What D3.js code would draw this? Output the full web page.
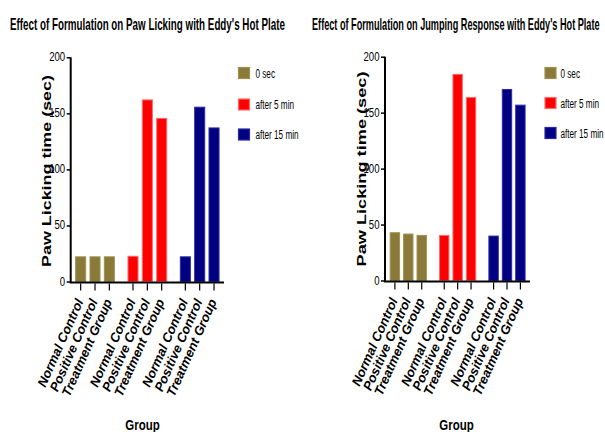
<!DOCTYPE html>
<html><head><meta charset="utf-8">
<script src="https://cdn.jsdelivr.net/npm/d3@7"></script>
<style>
body{margin:0;background:#fff;}
svg{display:block;}
text{font-family:"Liberation Sans Narrow","Arial Narrow","Liberation Sans",Arial,sans-serif;fill:#000;}
</style></head><body>
<svg id="c" width="605" height="432"></svg>
<script>
const series = ["0 sec", "after 5 min", "after 15 min"];
const categories = ["Normal Control", "Positive Control", "Treatment Group"];
const colors = ["#8a7a3a", "#ff0000", "#000080"];
const strokes = ["#a09050", "#ff6a6a", "#2a2aa8"];
const yTicks = [0, 50, 100, 150, 200];
// values per series (rows) x categories (cols)
const pawLicking = [
  [22, 22, 22],
  [22.5, 162, 145.5],
  [22, 155.5, 137]
];
const jumping = [
  [42.7, 41.5, 40.3],
  [40.3, 184.2, 163.6],
  [39.7, 170.7, 156.7]
];
const titles = ["Effect of Formulation on Paw Licking with Eddy's Hot Plate",
                "Effect of Formulation on Jumping Response with Eddy's Hot Plate"];
const yTitle = "Paw Licking time (sec)";
const xTitle = "Group";

const svg = d3.select("#c");

// horizontally squeeze a text anchored at (x,y) with given anchor
function squeezed(parent, x, y, str, size, f, opts = {}) {
  const gg = parent.append("g");
  const t = gg.append("text").attr("font-size", size).text(str);
  if (opts.bold) t.attr("font-weight", "bold");
  if (opts.anchor) t.attr("text-anchor", opts.anchor);
  let k = f;
  if (opts.width) k = opts.width / t.node().getComputedTextLength();
  gg.attr("transform", `translate(${x},${y}) scale(${k},1)`);
  return gg;
}

const panels = [
  {data: pawLicking, title: titles[0], tx0: 10, tx1: 285,
   ax: 70.7, y0: 281.5, y1: 57.3, xr: [73.5, 221.2], pad: 0.178, xEnd: 224,
   ytx: 45.5, yty: 171, ytl: 192, gx: 142.5, leg: {x: 238.5, ys: [73, 104.5, 134.5], tx: 255.5}},
  {data: jumping, title: titles[1], tx0: 312, tx1: 600,
   ax: 385, y0: 280.5, y1: 56.7, xr: [388.2, 527.1], pad: 0.185, xEnd: 530,
   ytx: 360.5, yty: 169, ytl: 195, gx: 456.5, leg: {x: 545, ys: [73, 103, 133], tx: 560.5}}
];

panels.forEach(p => {
  const g = svg.append("g");
  // title
  squeezed(g, p.tx0, 29.5, p.title, 16, 1, {bold: true, width: p.tx1 - p.tx0});

  const y = d3.scaleLinear().domain([0, 200]).range([p.y0, p.y1]);
  const xg = d3.scaleBand().domain(series).range(p.xr).paddingInner(p.pad).paddingOuter(0);
  const xc = d3.scaleBand().domain(categories).range([0, xg.bandwidth()]).paddingInner(0.3).paddingOuter(0.15);

  // bars
  series.forEach((s, si) => {
    const gg = g.append("g").attr("transform", `translate(${xg(s)},0)`);
    gg.selectAll("rect").data(categories.map((c, ci) => ({c, v: p.data[si][ci]})))
      .join("rect")
      .attr("x", d => xc(d.c)).attr("width", xc.bandwidth())
      .attr("y", d => y(d.v)).attr("height", d => y(0) - y(d.v))
      .attr("fill", colors[si]).attr("stroke", strokes[si]).attr("stroke-width", 1);
  });

  // y axis
  const yAxis = d3.axisLeft(y).tickValues(yTicks).tickSize(4).tickFormat("");
  const ya = g.append("g").attr("transform", `translate(${p.ax},0)`).call(yAxis);
  ya.select(".domain").attr("stroke-width", 2).attr("d", `M0,${p.y1}V${p.y0+1}`);
  ya.selectAll(".tick line").attr("stroke-width", 1.5);
  yTicks.forEach(v => {
    squeezed(g, p.ax - 5.5, y(v) + 4, String(v), 12, 0.8, {anchor: "end"});
  });

  // x axis line
  g.append("line").attr("x1", p.ax - 1).attr("x2", p.xEnd).attr("y1", y(0) + 1).attr("y2", y(0) + 1)
    .attr("stroke", "#000").attr("stroke-width", 2);

  // x ticks & labels
  series.forEach(s => {
    categories.forEach(c => {
      const cx = xg(s) + xc(c) + xc.bandwidth() / 2;
      g.append("line").attr("x1", cx).attr("x2", cx).attr("y1", y(0) + 2).attr("y2", y(0) + 9)
        .attr("stroke", "#000").attr("stroke-width", 1.2);
      g.append("text").attr("transform", `translate(${cx + 3},${y(0) + 20}) rotate(-66)`)
        .attr("text-anchor", "end").attr("font-size", 13).attr("font-weight", "bold")
        .attr("font-style", "italic").attr("font-family", "'Liberation Sans',Arial,sans-serif")
        .text(c);
    });
  });

  // y title
  g.append("text").attr("transform", `translate(${p.ytx + 5},${p.yty}) rotate(-90)`)
    .attr("text-anchor", "middle").attr("font-size", 13).attr("font-weight", "bold")
    .attr("font-family", "'DejaVu Sans','Liberation Sans',sans-serif")
    .attr("textLength", p.ytl).attr("lengthAdjust", "spacingAndGlyphs")
    .text(yTitle);

  // x title
  squeezed(g, p.gx, 430, xTitle, 14, 0.82, {bold: true, anchor: "middle"});

  // legend
  series.forEach((s, si) => {
    const ly = p.leg.ys[si];
    g.append("rect").attr("x", p.leg.x).attr("y", ly - 5.5).attr("width", 11).attr("height", 11)
      .attr("fill", colors[si]).attr("stroke", strokes[si]).attr("stroke-width", 1.2);
    squeezed(g, p.leg.tx, ly + 4.5, s, 12, 0.68);
  });
});
</script>
</body></html>
